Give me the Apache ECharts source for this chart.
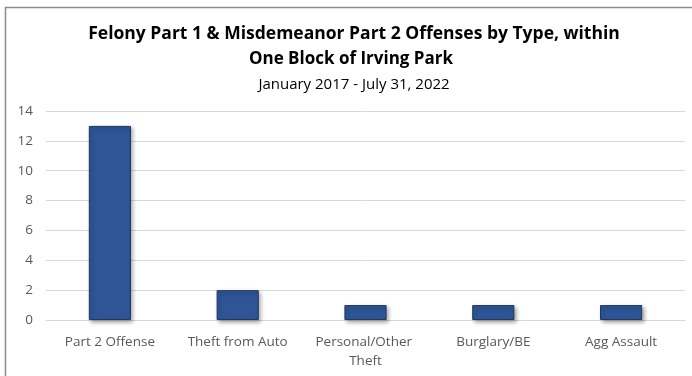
<!DOCTYPE html>
<html><head><meta charset="utf-8">
<script src="https://cdn.jsdelivr.net/npm/echarts@6/dist/echarts.min.js"></script>
<style>html,body{margin:0;padding:0;background:#fff}#c{width:692px;height:376px}</style>
</head><body><div id="c"></div>
<script>
const categories = ["Part 2 Offense", "Theft from Auto", "Personal/Other Theft", "Burglary/BE", "Agg Assault"];
const values = [13, 2, 1, 1, 1];
const titleLines = ["Felony Part 1 & Misdemeanor Part 2 Offenses by Type, within", "One Block of Irving Park"];
const subtitleText = "January 2017 - July 31, 2022";

const chart = echarts.init(document.getElementById('c'), null, {renderer: 'canvas'});
const font = '"Open Sans", Lato, sans-serif';
const cx = 349;
chart.setOption({
  animation: false,
  title: [
    {text: titleLines[0], left: cx, top: 20, textAlign: 'center',
     textStyle: {fontFamily: font, fontSize: 17.5, fontWeight: 'bold', color: '#000'}},
    {text: titleLines[1], left: cx - 3, top: 46, textAlign: 'center',
     textStyle: {fontFamily: font, fontSize: 17, fontWeight: 'bold', color: '#000'}},
    {text: subtitleText, left: cx, top: 72, textAlign: 'center',
     textStyle: {fontFamily: font, fontSize: 15, fontWeight: 'normal', color: '#000'}}
  ],
  grid: {left: 46, right: 7, top: 111, bottom: 56, containLabel: false},
  xAxis: {
    type: 'category', data: categories,
    axisLine: {show: true, lineStyle: {color: '#d9d9d9'}},
    axisTick: {show: false},
    axisLabel: {interval: 0, fontFamily: font, fontSize: 13.5, color: '#595959', margin: 13, width: 112, overflow: 'break', lineHeight: 19}
  },
  yAxis: {
    type: 'value', min: 0, max: 14, interval: 2,
    axisLine: {show: false}, axisTick: {show: false},
    splitLine: {lineStyle: {color: '#d9d9d9'}},
    axisLabel: {fontFamily: font, fontSize: 13.5, color: '#595959', margin: 13}
  },
  series: [{
    type: 'bar', data: values, barWidth: '33%',
    itemStyle: {color: '#2F5597', borderColor: '#203864', borderWidth: 1,
      shadowColor: 'rgba(0,0,0,0.35)', shadowBlur: 4, shadowOffsetX: 2, shadowOffsetY: 2}
  }],
  graphic: [
    {type: 'line', shape: {x1: 5.5, y1: 7, x2: 5.5, y2: 376}, style: {stroke: '#8c8c8c', lineWidth: 1.5}, silent: true},
    {type: 'line', shape: {x1: 5, y1: 7.5, x2: 692, y2: 7.5}, style: {stroke: '#8c8c8c', lineWidth: 1.5}, silent: true}
  ]
});
</script></body></html>
